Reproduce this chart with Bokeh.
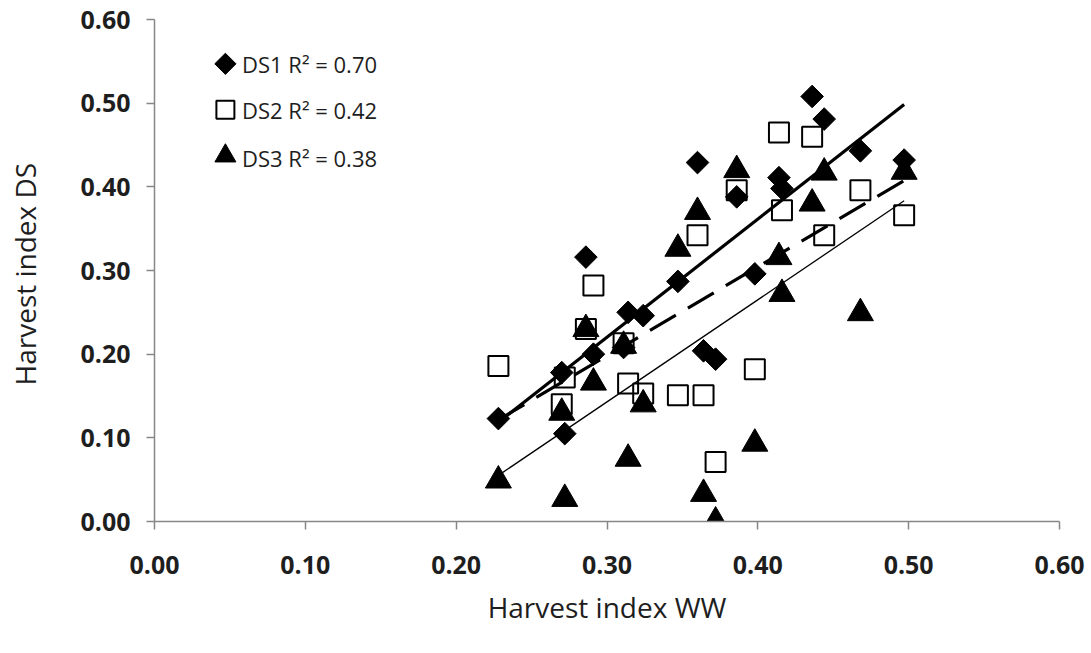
import numpy as np
from bokeh.plotting import figure
from bokeh.models import Range1d, FixedTicker, NumeralTickFormatter
from bokeh.core.properties import value
from bokeh.embed import file_html
from bokeh.resources import INLINE

# ---- data ----
hi_ww = [0.228, 0.270, 0.272, 0.286, 0.291, 0.311, 0.314, 0.324, 0.347, 0.360,
         0.364, 0.372, 0.386, 0.398, 0.414, 0.416, 0.436, 0.444, 0.468, 0.497]
ds1 = [0.123, 0.178, 0.105, 0.316, 0.200, 0.208, 0.250, 0.246, 0.287, 0.429,
       0.204, 0.194, 0.388, 0.296, 0.411, 0.398, 0.508, 0.481, 0.443, 0.432]
ds2 = [0.186, 0.140, 0.172, 0.230, 0.282, 0.213, 0.165, 0.153, 0.151, 0.342,
       0.151, 0.071, 0.396, 0.182, 0.465, 0.372, 0.460, 0.342, 0.396, 0.366]
ds3 = [0.049, 0.130, 0.027, 0.230, 0.166, 0.210, 0.075, 0.140, 0.326, 0.370,
       0.033, 0.000, 0.420, 0.093, 0.316, 0.272, 0.380, 0.417, 0.249, 0.418]
series_names = ["DS1", "DS2", "DS3"]
r2_labels = ["0.70", "0.42", "0.38"]
tick_values = [0.0, 0.1, 0.2, 0.3, 0.4, 0.5, 0.6]
x_title = "Harvest index WW"
y_title = "Harvest index  DS"

# ---- layout / style constants ----
FONT = "Open Sans"
AXIS_GRAY = "#878787"
TEXT = "#1e1e1e"
LEG_X = 0.047                     # legend marker column (data units)
LEG_TEXT_X = 0.058                # legend text start (data units)
LEG_Y = [0.547, 0.492, 0.435]     # legend rows (data units)

p = figure(width=1091, height=653, x_range=Range1d(0, 0.6), y_range=Range1d(0, 0.6),
           output_backend="svg", toolbar_location=None,
           min_border_left=154, min_border_right=32, min_border_top=19, min_border_bottom=132)
p.outline_line_color = None
p.grid.visible = False
p.background_fill_color = "white"
p.border_fill_color = "white"

for ax in (p.xaxis[0], p.yaxis[0]):
    ax.ticker = FixedTicker(ticks=tick_values)
    ax.formatter = NumeralTickFormatter(format="0.00")
    ax.axis_line_color = AXIS_GRAY
    ax.axis_line_width = 1.5
    ax.major_tick_line_color = AXIS_GRAY
    ax.major_tick_line_width = 1.5
    ax.major_tick_in = 0
    ax.major_tick_out = 8
    ax.minor_tick_line_color = None
    ax.major_label_text_font = FONT
    ax.major_label_text_font_size = "25px"
    ax.major_label_text_font_style = "bold"
    ax.major_label_text_color = TEXT
    ax.axis_label_text_font = FONT
    ax.axis_label_text_font_size = "28px"
    ax.axis_label_text_font_style = "normal"
    ax.axis_label_text_color = TEXT

p.xaxis[0].axis_label = x_title
p.xaxis[0].major_label_standoff = 26
p.xaxis[0].axis_label_standoff = 11
p.yaxis[0].axis_label = y_title
p.yaxis[0].major_label_standoff = 16
p.yaxis[0].axis_label_standoff = 33

x = np.array(hi_ww)
xs_fit = np.array([x.min(), x.max()])

# regression lines (least squares fit of each series)
line_styles = [dict(line_width=3.2, line_dash="solid"),
               dict(line_width=3.2, line_dash="30 14"),
               dict(line_width=1.3, line_dash="solid")]
for ys, st in zip([ds1, ds2, ds3], line_styles):
    k, b = np.polyfit(x, np.array(ys), 1)
    p.line(xs_fit, k * xs_fit + b, line_color="black", **st)

# data markers
p.scatter(hi_ww, ds1, marker="square", size=16, angle=np.pi / 4,
          fill_color="black", line_color="black", line_width=1)
p.scatter(hi_ww, ds2, marker="square", size=20, fill_alpha=0,
          line_color="black", line_width=2)
p.scatter(hi_ww, ds3, marker="triangle", size=26,
          fill_color="black", line_color="black", line_width=1)

# legend (drawn by hand so the diamond keeps its orientation)
p.scatter([LEG_X], [LEG_Y[0]], marker="square", size=15, angle=np.pi / 4,
          fill_color="black", line_color="black", line_width=1)
p.scatter([LEG_X], [LEG_Y[1]], marker="square", size=18, fill_alpha=0,
          line_color="black", line_width=2)
p.scatter([LEG_X], [LEG_Y[2] + 0.002], marker="triangle", size=21,
          fill_color="black", line_color="black", line_width=1)
labels = [f"{n} R\u00b2 = {r}" for n, r in zip(series_names, r2_labels)]
p.text([LEG_TEXT_X] * 3, LEG_Y, text=labels, text_baseline="middle", text_align="left",
       text_font=value(FONT), text_font_size="22px", text_color=TEXT)

open("out.html", "w").write(file_html(p, INLINE))
